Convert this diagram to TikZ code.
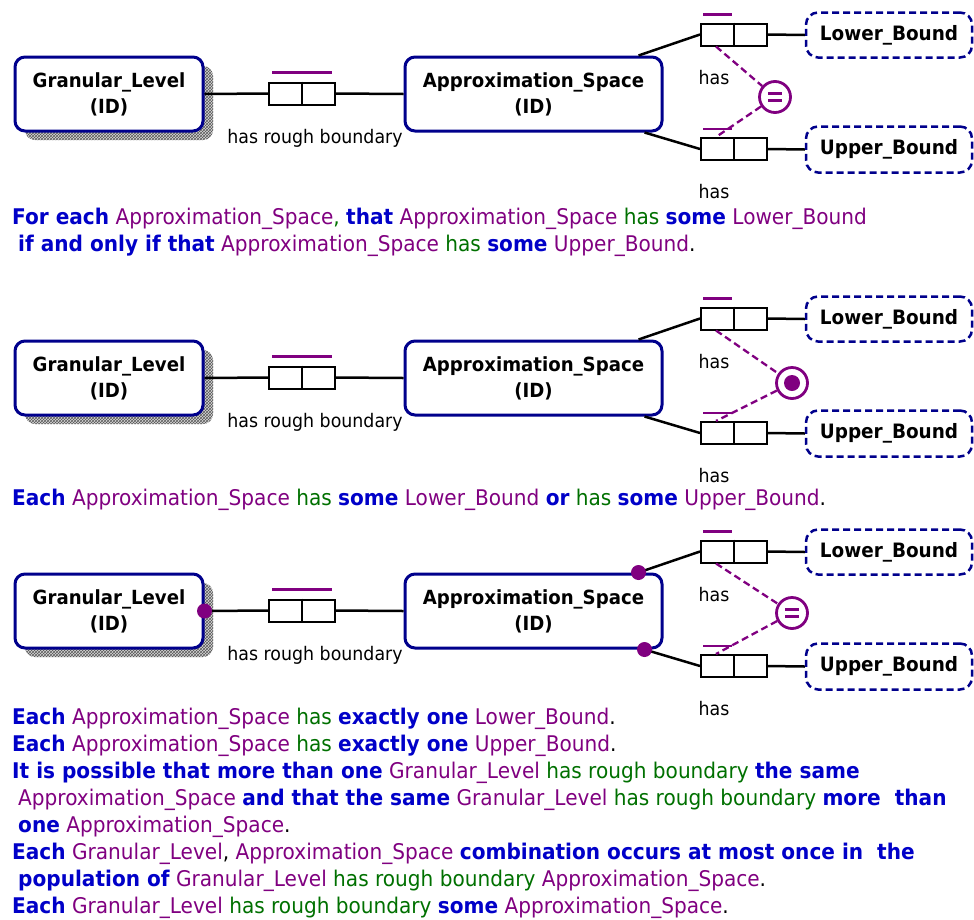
\documentclass[tikz,border=0pt]{standalone}
\usepackage{fontspec}
\setmainfont{DejaVu Sans}[FakeStretch=0.93]
\usetikzlibrary{patterns,calc}
\definecolor{kwblue}{RGB}{0,0,200}
\definecolor{obpurple}{RGB}{128,0,128}
\definecolor{prgreen}{RGB}{0,112,0}
\definecolor{entblue}{RGB}{0,0,140}
\definecolor{cpurple}{RGB}{128,0,128}
\newcommand{\kw}[1]{\textcolor{kwblue}{\bfseries #1}}
\newcommand{\ob}[1]{\textcolor{obpurple}{#1}}
\newcommand{\pr}[1]{\textcolor{prgreen}{#1}}
\tikzset{
  entity/.style={draw=entblue, line width=3pt, rounded corners=10pt, fill=white,
    align=center, inner sep=0pt, font=\fontsize{19.5}{26}\selectfont\bfseries},
  valuetype/.style={draw=entblue, line width=2.5pt, dash pattern=on 7pt off 4pt,
    rounded corners=12pt, fill=white, inner sep=0pt, font=\fontsize{19.8}{26}\selectfont\bfseries},
  rolebox/.style={draw=black, line width=2pt, fill=white, minimum width=66pt,
    minimum height=22pt, inner sep=0pt},
  conn/.style={draw=black, line width=2.5pt},
  ucbar/.style={draw=cpurple, line width=2.5pt},
  cdash/.style={draw=cpurple, line width=2.3pt, dash pattern=on 7pt off 4pt},
  ccircle/.style={circle, draw=cpurple, line width=2.8pt, minimum size=31pt, inner sep=0pt},
  rlabel/.style={inner sep=0pt, font=\fontsize{18.7}{22}\selectfont},
  verb/.style={inner sep=0pt, anchor=base west, font=\fontsize{21.6}{27}\selectfont},
}
\newcommand{\ormpanel}[2]{%
\begin{scope}[shift={(0,#1)}]
  \fill[gray!30, rounded corners=10pt] (25,66) rectangle (213,140);
  \fill[pattern=crosshatch, pattern color=gray!70!black, rounded corners=10pt] (25,66) rectangle (213,140);
  \node[entity, minimum width=188pt, minimum height=74pt] (gl#2) at (109,94) {Granular\_Level\\(ID)};
  \node[entity, minimum width=257pt, minimum height=74pt] (as#2) at (533.5,94) {Approximation\_Space\\(ID)};
  \node[rolebox] (rr#2) at (302,93.5) {};
  \draw[line width=2pt] (rr#2.north) -- (rr#2.south);
  \draw[ucbar] ($(rr#2.north west)+(4,-9)$) -- ($(rr#2.north east)+(-4,-9)$);
  \node[rlabel] (rrl#2) at (315,138) {has rough boundary};
  \draw[conn] (gl#2.east) -- (rr#2.west);
  \draw[conn] (rr#2.east) -- (as#2.west);
  \node[rolebox] (ru#2) at (734,34.5) {};
  \draw[line width=2pt] (ru#2.north) -- (ru#2.south);
  \draw[ucbar] ($(ru#2.north west)+(3,-8)$) -- ($(ru#2.north)+(-2,-8)$);
  \node[rolebox] (rl#2) at (734,149) {};
  \draw[line width=2pt] (rl#2.north) -- (rl#2.south);
  \draw[ucbar] ($(rl#2.north west)+(3,-8)$) -- ($(rl#2.north)+(-2,-8)$);
  \node[rlabel] (rul#2) at (714,78) {has};
  \node[rlabel] (rll#2) at (714,192) {has};
  \coordinate (asU#2) at ($(as#2.north east)+(-25,0)$);
  \coordinate (asL#2) at ($(as#2.south east)+(-19,0)$);
  \draw[conn] (asU#2) -- (ru#2.west);
  \draw[conn] (asL#2) -- (rl#2.west);
  \node[valuetype, minimum width=166pt, minimum height=45pt] (lb#2) at (889,35) {Lower\_Bound};
  \node[valuetype, minimum width=166pt, minimum height=46pt] (ub#2) at (889,149.5) {Upper\_Bound};
  \draw[conn] (ru#2.east) -- (lb#2.west);
  \draw[conn] (rl#2.east) -- (ub#2.west);
  \coordinate (ruA#2) at ($(ru#2.south west)+(16,0)$);
  \coordinate (rlA#2) at ($(rl#2.north west)+(16,0)$);
\end{scope}}

\begin{document}
\begin{tikzpicture}[x=1pt, y=-1pt]
\useasboundingbox (0,0) rectangle (974,919);

% ---------- panel 1 ----------
\ormpanel{0}{1}
\node[ccircle] (c1) at (775,97) {};
\draw[cdash] (ruA1) -- (c1);
\draw[cdash] (c1) -- (rlA1);
\draw[draw=cpurple, line width=2.8pt] ($(c1)+(-7,-3.8)$) -- ($(c1)+(7,-3.8)$);
\draw[draw=cpurple, line width=2.8pt] ($(c1)+(-7,3.6)$) -- ($(c1)+(7,3.6)$);

\node[verb] (v11) at (12,224) {\kw{For each} \ob{Approximation\_Space}\pr{,} \kw{that} \ob{Approximation\_Space} \pr{has} \kw{some} \ob{Lower\_Bound}};
\node[verb] (v12) at (18,251) {\kw{if and only if that} \ob{Approximation\_Space} \pr{has} \kw{some} \ob{Upper\_Bound}.};

% ---------- panel 2 ----------
\ormpanel{284}{2}
\node[ccircle] (c2) at (792,383) {};
\draw[cdash] (ruA2) -- (c2);
\draw[cdash] (c2) -- (rlA2);
\fill[cpurple] (c2.center) circle (8);

\node[verb] (v21) at (12,505) {\kw{Each} \ob{Approximation\_Space} \pr{has} \kw{some} \ob{Lower\_Bound} \kw{or} \pr{has} \kw{some} \ob{Upper\_Bound}.};

% ---------- panel 3 ----------
\ormpanel{517}{3}
\node[ccircle] (c3) at (792,613) {};
\draw[cdash] (ruA3) -- (c3);
\draw[cdash] (c3) -- (rlA3);
\draw[draw=cpurple, line width=2.8pt] ($(c3)+(-7,-3.8)$) -- ($(c3)+(7,-3.8)$);
\draw[draw=cpurple, line width=2.8pt] ($(c3)+(-7,3.6)$) -- ($(c3)+(7,3.6)$);
\fill[cpurple] (gl3.east) circle (7.5);
\fill[cpurple] (asU3) circle (7.5);
\fill[cpurple] (asL3) circle (7.5);

\node[verb] (v31) at (12,724) {\kw{Each} \ob{Approximation\_Space} \pr{has} \kw{exactly one} \ob{Lower\_Bound}.};
\node[verb] (v32) at (12,751) {\kw{Each} \ob{Approximation\_Space} \pr{has} \kw{exactly one} \ob{Upper\_Bound}.};
\node[verb] (v33) at (12,778) {\kw{It is possible that more than one} \ob{Granular\_Level} \pr{has rough boundary} \kw{the same}};
\node[verb] (v34) at (18,805) {\ob{Approximation\_Space} \kw{and that the same} \ob{Granular\_Level} \pr{has rough boundary} \kw{more\ \ than}};
\node[verb] (v35) at (18,832) {\kw{one} \ob{Approximation\_Space}.};
\node[verb] (v36) at (12,859) {\kw{Each} \ob{Granular\_Level}, \ob{Approximation\_Space} \kw{combination occurs at most once in\ \ the}};
\node[verb] (v37) at (18,886) {\kw{population of} \ob{Granular\_Level} \pr{has rough boundary} \ob{Approximation\_Space}.};
\node[verb] (v38) at (12,913) {\kw{Each} \ob{Granular\_Level} \pr{has rough boundary} \kw{some} \ob{Approximation\_Space}.};
\end{tikzpicture}
\end{document}
